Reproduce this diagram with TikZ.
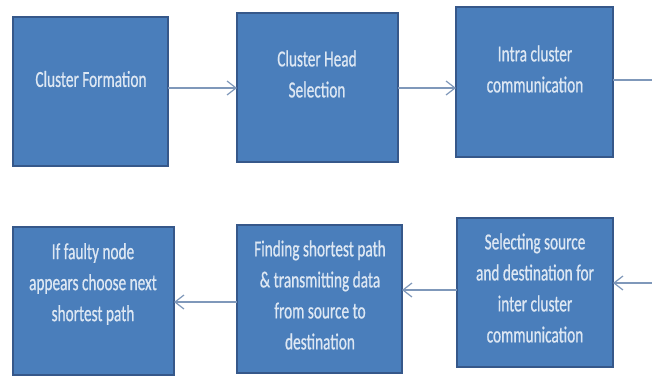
\documentclass[tikz,border=0pt]{standalone}
\usepackage{fontspec}
\newfontfamily\boxfont{Carlito}[FakeStretch=0.665, FakeBold=0.6]
\usetikzlibrary{arrows.meta}
\begin{document}
\begin{tikzpicture}[x=1pt, y=-1pt, inner xsep=0pt, inner ysep=0pt, outer xsep=0pt, outer ysep=0pt,
  stepbox/.style={draw=B, fill=F, line width=1.6pt, rectangle},
  steptext/.style={text=T, align=center, font=\boxfont\fontsize{23}{31}\selectfont},
  flow/.style={draw=A, line width=1.4pt, -{Straight Barb[length=9pt, width=14pt, line width=1.2pt]}}]
\definecolor{F}{HTML}{4A7EBB}
\definecolor{B}{HTML}{36588A}
\definecolor{T}{HTML}{DDE7F3}
\definecolor{A}{HTML}{7F98BA}
\path[use as bounding box, fill=white] (0,0) rectangle (652,376);
% top row
\node[stepbox, minimum width=155pt, minimum height=149pt] (b1) at (90.5,91.5) {};
\node[stepbox, minimum width=161pt, minimum height=149pt] (b2) at (317.5,87.5) {};
\node[stepbox, minimum width=157pt, minimum height=150pt] (b3) at (534.5,82) {};
\node[steptext] (t1) at (91,79) {Cluster Formation};
\node[steptext] (t2) at (317,74) {Cluster Head\\Selection};
\node[steptext] (t3) at (535,69) {Intra cluster\\communication};
% bottom row
\node[stepbox, minimum width=156pt, minimum height=149pt] (b4) at (535,292.5) {};
\node[stepbox, minimum width=165pt, minimum height=148pt] (b5) at (319.5,299) {};
\node[stepbox, minimum width=161pt, minimum height=148pt] (b6) at (93.5,301) {};
\node[steptext] (t4) at (535,288) {Selecting source\\and destination for\\inter cluster\\communication};
\node[steptext] (t5) at (320,295) {Finding shortest path\\\& transmitting data\\from source to\\destination};
\node[steptext] (t6) at (93,284) {If faulty node\\appears choose next\\shortest path};
% connectors
\coordinate (out) at (652,80);
\coordinate (in) at (652,283);
\draw[flow] (b1.east |- 0,88) -- (b2.west |- 0,88);
\draw[flow] (b2.east |- 0,88) -- (b3.west |- 0,88);
\draw[draw=A, line width=1.4pt] (b3.east |- out) -- (out);
\draw[flow] (in) -- (b4.east |- in);
\draw[flow] (b4.west |- 0,290) -- (b5.east |- 0,290);
\draw[flow] (b5.west |- 0,302) -- (b6.east |- 0,302);
\end{tikzpicture}
\end{document}
